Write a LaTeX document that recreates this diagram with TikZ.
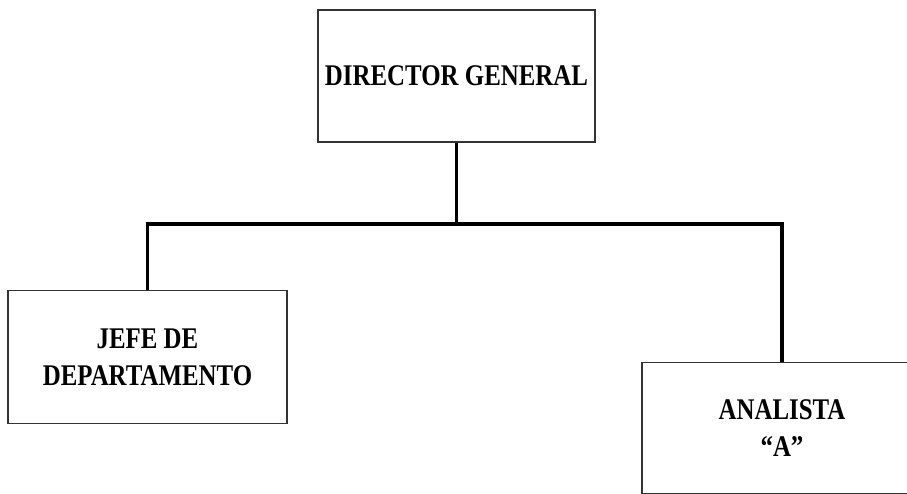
\documentclass[tikz,border=0pt]{standalone}
\usepackage{fontspec}
\setmainfont{Liberation Serif}
\newfontfamily\boxfont{Liberation Serif}[FakeStretch=0.83,Ligatures=TeX]
\begin{document}
\begin{tikzpicture}[x=1pt,y=-1pt,
  orgbox/.style={draw=black!80, line width=1.2pt, rectangle, inner sep=0pt, align=center,
    font=\boxfont\fontsize{30}{37}\selectfont\bfseries},
  conn/.style={draw=black, line width=3.2pt}]
\clip (0,0) rectangle (907,494);
\useasboundingbox (0,0) rectangle (907,494);
\node[orgbox, minimum width=277pt, minimum height=132pt] (dir) at (456.5,76) {DIRECTOR GENERAL};
\node[orgbox, minimum width=279pt, minimum height=133pt] (jefe) at (147.5,357) {JEFE DE\\DEPARTAMENTO};
\node[orgbox, minimum width=280pt, minimum height=131pt] (ana) at (782,428) {ANALISTA\\“A”};
\coordinate (bus) at (456.5,224);
\draw[conn] (dir.south) -- (bus);
\draw[conn] (jefe.north) |- (bus) -| (ana.north);
\end{tikzpicture}
\end{document}
